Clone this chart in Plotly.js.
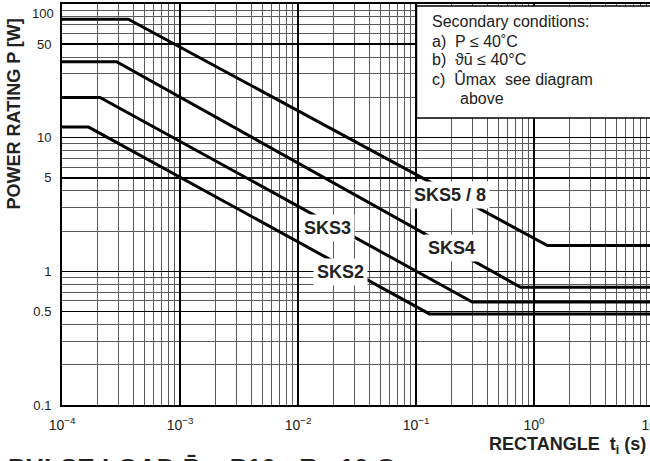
<!DOCTYPE html>
<html>
<head>
<meta charset="utf-8">
<script src="https://cdn.plot.ly/plotly-3.0.1.min.js"></script>
<style>
html,body{margin:0;padding:0;overflow:hidden;background:#fff;}
#chart{width:652px;height:461px;}
</style>
</head>
<body>
<div id="chart"></div>
<script>
// ---- data (pulse time t_i in s, power P in W) ----
const sks58_t = [1e-4, 3.65e-4, 1.30, 10];
const sks58_p = [77, 77, 1.56, 1.56];

const sks4_t = [1e-4, 2.9e-4, 0.77, 10];
const sks4_p = [37, 37, 0.76, 0.76];

const sks3_t = [1e-4, 2.1e-4, 0.30, 10];
const sks3_p = [20, 20, 0.59, 0.59];

const sks2_t = [1e-4, 1.68e-4, 0.13, 10];
const sks2_p = [12, 12, 0.48, 0.48];

const xTickVals = [1e-4, 1e-3, 1e-2, 1e-1, 1, 10];
const xTickText = ['10<sup>−4</sup>', '10<sup>−3</sup>', '10<sup>−2</sup>', '10<sup>−1</sup>', '10<sup>0</sup>', '10<sup>1</sup>'];
const yTickVals = [0.1, 0.5, 1, 5, 10, 50, 100];
const yTickText = ['0.1', '0.5', '1', '5', '10', '50', ''];
const yTopLabel = '100';

const seriesNames = ['SKS5 / 8', 'SKS4', 'SKS3', 'SKS2'];
const conditionLines = ['Secondary conditions:', 'a)  P ≤ 40˚C', 'b)  ϑū ≤ 40°C', 'c)  Ûmax  see diagram', 'above'];

// minor grid positions (2..9 in each decade)
function minorVals(d0, d1) {
  const v = [];
  for (let d = d0; d < d1; d++) for (let k = 2; k <= 9; k++) v.push(k * Math.pow(10, d));
  return v;
}

const FONT = '"Liberation Sans", Arial, Helvetica, sans-serif';
const lineStyle = {color: '#000', width: 3};

const traces = [
  {x: sks58_t, y: sks58_p, name: seriesNames[0]},
  {x: sks4_t, y: sks4_p, name: seriesNames[1]},
  {x: sks3_t, y: sks3_p, name: seriesNames[2]},
  {x: sks2_t, y: sks2_p, name: seriesNames[3]}
].map(t => Object.assign(t, {type: 'scatter', mode: 'lines', line: lineStyle, hoverinfo: 'skip', showlegend: false}));

// helpers: pixel -> paper position for annotations
const L = 62.5, W = 590, B = 405, H = 401;
const px = x => (x - L) / W;
const py = y => (B - y) / H;

const labelPos = [[450, 195], [452, 248], [328, 228], [341, 272]];
const annotations = seriesNames.map((n, i) => ({
  xref: 'paper', yref: 'paper', x: px(labelPos[i][0]), y: py(labelPos[i][1]),
  xanchor: 'center', yanchor: 'middle',
  text: '<b>' + n + '</b>', showarrow: false, bgcolor: '#fff', borderpad: 3,
  font: {family: FONT, size: 18, color: '#222'}
}));

const condY = [21, 41, 60, 79, 98];
const condX = [430, 430, 430, 430, 458];
conditionLines.forEach((t, i) => annotations.push({
  xref: 'paper', yref: 'paper', x: px(condX[i]), y: py(condY[i]),
  xanchor: 'left', yanchor: 'middle', text: t, showarrow: false,
  font: {family: FONT, size: 16, color: '#222'}
}));

annotations.push({
  xref: 'paper', yref: 'paper', x: px(56), y: py(13), xanchor: 'right', yanchor: 'middle',
  text: yTopLabel, showarrow: false, font: {family: FONT, size: 13, color: '#222'}
});
annotations.push({
  xref: 'paper', yref: 'paper', x: px(14), y: py(114), xanchor: 'center', yanchor: 'middle', textangle: -90,
  text: '<b>POWER RATING P [W]</b>', showarrow: false,
  font: {family: FONT, size: 18, color: '#222'}
});
annotations.push({
  xref: 'paper', yref: 'paper', x: px(648), y: py(445), xanchor: 'right', yanchor: 'middle',
  text: '<b>RECTANGLE  t<sub>i</sub> (s)</b>', showarrow: false,
  font: {family: FONT, size: 18, color: '#222'}
});
annotations.push({
  xref: 'paper', yref: 'paper', x: px(6), y: py(468), xanchor: 'left', yanchor: 'middle',
  text: '<b>PULSE LOAD P̄ = P10 · Rv 10 Ω</b>', showarrow: false,
  font: {family: FONT, size: 26, color: '#222'}
});

const layout = {
  width: 652, height: 461,
  margin: {l: 62, r: 0, t: 4, b: 56},
  paper_bgcolor: '#fff', plot_bgcolor: '#fff',
  font: {family: FONT, size: 13, color: '#222'},
  xaxis: {
    type: 'log', range: [-4, 1], tickmode: 'array', tickvals: xTickVals, ticktext: xTickText,
    ticks: '', ticklabelstandoff: 6, ticklabeloverflow: 'allow', showgrid: true, gridcolor: '#000', gridwidth: 1.8,
    showline: true, linecolor: '#000', linewidth: 2, mirror: true, zeroline: false,
    tickfont: {family: FONT, size: 14, color: '#222'},
    minor: {tickmode: 'array', tickvals: minorVals(-4, 1), showgrid: true, gridcolor: '#5a5a5a', gridwidth: 1, ticks: ''}
  },
  yaxis: {
    type: 'log', range: [-1, 2], tickmode: 'array', tickvals: yTickVals, ticktext: yTickText,
    ticks: '', ticklabelstandoff: 6, ticklabeloverflow: 'allow', showgrid: true, gridcolor: '#000', gridwidth: 1.5,
    showline: true, linecolor: '#000', linewidth: 2, mirror: true, zeroline: false,
    tickfont: {family: FONT, size: 13, color: '#222'},
    minor: {tickmode: 'array', tickvals: minorVals(-1, 2), showgrid: true, gridcolor: '#5a5a5a', gridwidth: 1, ticks: ''}
  },
  shapes: [{
    type: 'rect', xref: 'paper', yref: 'paper', layer: 'above',
    x0: px(417), x1: px(700), y0: py(118), y1: py(6),
    fillcolor: '#fff', line: {color: '#000', width: 1.5}
  }],
  annotations: annotations
};

Plotly.newPlot('chart', traces, layout, {staticPlot: true, displayModeBar: false});
</script>
</body>
</html>
